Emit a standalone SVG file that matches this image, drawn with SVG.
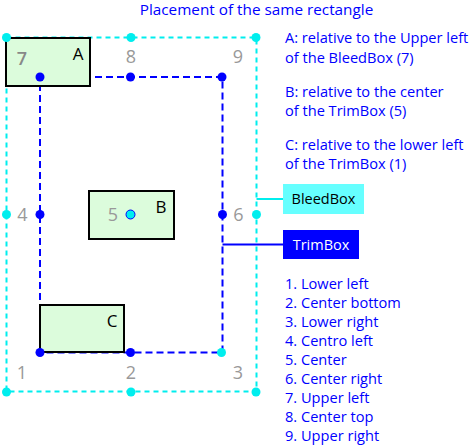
<svg xmlns="http://www.w3.org/2000/svg" width="471" height="446" viewBox="0 0 471 446">
<style>
text{font-family:"Open Sans","Noto Sans",sans-serif}
.t{fill:#0000ff;font-size:14.6px}
.num{fill:#999999;font-size:18px;text-anchor:middle}
.lbl{fill:#000;font-size:17px;text-anchor:middle}
.rect{fill:#dcfcdc;stroke:#000;stroke-width:2}
.bleed{fill:none;stroke:#00eeee;stroke-width:2;stroke-dasharray:5 4}
.trim{fill:none;stroke:#0000ff;stroke-width:2;stroke-dasharray:7 4}
.cd{fill:#00eeee}
.bd{fill:#0000ff}
</style>
<rect width="471" height="446" fill="#fff"/>
<text class="t" x="256.5" y="15" text-anchor="middle" style="font-size:15.3px">Placement of the same rectangle</text>
<g id="connectors">
<rect class="bleed" x="6.5" y="37.5" width="250" height="354"/>
<rect class="trim" x="40" y="77" width="182.5" height="275.5"/>
<line x1="256.5" y1="199" x2="283" y2="199" stroke="#00eeee" stroke-width="2"/>
<line x1="222.5" y1="244.5" x2="283" y2="244.5" stroke="#0000ff" stroke-width="2"/>
</g>
<g id="rectA"><rect class="rect" x="6" y="38" width="84" height="48"/><text class="lbl" x="78" y="60">A</text></g>
<g id="rectB"><rect class="rect" x="89" y="191" width="85" height="48"/><text class="lbl" x="161" y="213">B</text></g>
<g id="rectC"><rect class="rect" x="40" y="305" width="84" height="47"/><text class="lbl" x="112" y="327">C</text></g>
<g id="bleedPoints">
<circle class="cd" cx="6.5" cy="37.5" r="4.5"/><circle class="cd" cx="131" cy="37.5" r="4.5"/><circle class="cd" cx="256" cy="37.5" r="4.5"/>
<circle class="cd" cx="6.5" cy="214.5" r="4.5"/><circle class="cd" cx="256.5" cy="214.5" r="4.5"/>
<circle class="cd" cx="6.5" cy="392" r="4.5"/><circle class="cd" cx="131" cy="392" r="4.5"/><circle class="cd" cx="256" cy="392" r="4.5"/>
</g>
<g id="trimPoints">
<circle class="bd" cx="40" cy="77" r="4.5"/><circle class="bd" cx="130.5" cy="77" r="4.5"/><circle class="bd" cx="222" cy="77" r="4.5"/>
<circle class="bd" cx="40" cy="214.5" r="4.5"/><circle class="bd" cx="222.5" cy="214.5" r="4.5"/>
<circle class="bd" cx="40" cy="352.5" r="4.5"/><circle class="bd" cx="130.5" cy="352.5" r="4.5"/><circle class="cd" cx="221.5" cy="352.5" r="4.5"/>
<circle cx="130.5" cy="214.5" r="4.5" fill="#00eeee" stroke="#0000ff" stroke-width="1"/>
</g>
<g id="numbers">
<text class="num" x="22" y="65" style="fill:#888;font-weight:600">7</text><text class="num" x="131" y="63">8</text><text class="num" x="238" y="63">9</text>
<text class="num" x="22.5" y="221">4</text><text class="num" x="113" y="221">5</text><text class="num" x="238.5" y="221">6</text>
<text class="num" x="22" y="379">1</text><text class="num" x="131" y="379">2</text><text class="num" x="238" y="379">3</text>
</g>
<g id="notes">
<text class="t" x="285" y="43">A: relative to the Upper left</text>
<text class="t" x="285" y="62.5">of the BleedBox (7)</text>
<text class="t" x="285" y="96.5">B: relative to the center</text>
<text class="t" x="285" y="115.5">of the TrimBox (5)</text>
<text class="t" x="285" y="149.5">C: relative to the lower left</text>
<text class="t" x="285" y="168.5">of the TrimBox (1)</text>
</g>
<g id="bleedBox"><rect x="283" y="184" width="81" height="30" fill="#66ffff"/><text x="323.5" y="204" font-size="14.5" text-anchor="middle" fill="#000">BleedBox</text></g>
<g id="trimBox"><rect x="283" y="230" width="76" height="29" fill="#0000ff"/><text x="321" y="250" font-size="14.5" text-anchor="middle" fill="#fff">TrimBox</text></g>
<g id="legend">
<text class="t" x="285" y="288.5">1. Lower left</text>
<text class="t" x="285" y="307.5">2. Center bottom</text>
<text class="t" x="285" y="326.5">3. Lower right</text>
<text class="t" x="285" y="345.5">4. Centro left</text>
<text class="t" x="285" y="364.5">5. Center</text>
<text class="t" x="285" y="383.5">6. Center right</text>
<text class="t" x="285" y="403">7. Upper left</text>
<text class="t" x="285" y="422">8. Center top</text>
<text class="t" x="285" y="441">9. Upper right</text>
</g>
</svg>
